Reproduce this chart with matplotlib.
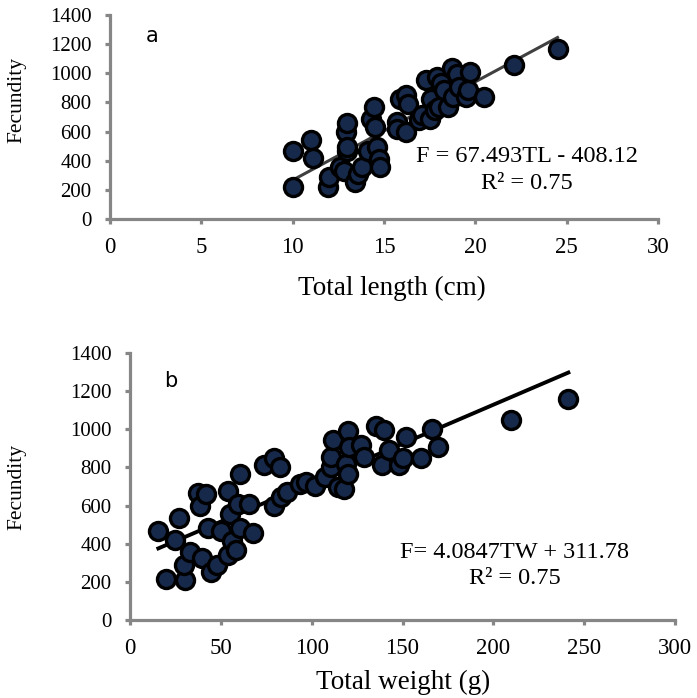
import matplotlib
matplotlib.use("Agg")
import matplotlib.pyplot as plt
import numpy as np

# Panel a: total length (cm) vs fecundity
tl = [10.0, 10.0, 11.0, 11.1, 11.96, 12.0, 12.6, 12.8, 12.9, 13.0, 13.0, 13.0, 13.4, 13.6, 13.8,
      14.1, 14.3, 14.45, 14.5, 14.6, 14.7, 14.8, 15.7, 15.7, 15.9, 16.2, 16.2, 16.3, 16.9, 17.1,
      17.3, 17.5, 17.6, 17.8, 17.9, 18.0, 18.1, 18.3, 18.5, 18.7, 18.8, 19.0, 19.1, 19.5, 19.6,
      19.7, 20.5, 22.1, 24.5]
fec_a = [470, 218, 544, 420, 218, 287, 356, 326, 597, 659, 470, 493, 252, 310, 356,
         470, 689, 769, 631, 493, 413, 356, 666, 620, 826, 849, 597, 792, 677, 711,
         952, 689, 826, 746, 975, 769, 930, 884, 769, 1033, 838, 998, 907, 838, 884,
         1010, 838, 1056, 1164]

# Panel b: total weight (g) vs fecundity
tw = [15.6, 19.8, 25, 27, 30.2, 29.6, 33.3, 37.5, 38.5, 39.6, 41.7, 42.7, 44.8, 47.9, 50,
      54.2, 54.2, 55.2, 56.3, 58.3, 59.4, 60.4, 60.8, 65.6, 67.7, 74.0, 79.2, 82.3, 79.2, 83.3,
      86.5, 93.8, 96.9, 102, 107.3, 110.4, 110.4, 111.5, 114.6, 117.7, 118.8, 119.8, 119.8, 120.8,
      127, 129, 135.4, 138.5, 139.6, 142.7, 147.9, 150, 152, 160, 166, 169.8, 209.8, 241.3]
fec_b = [469, 217, 421, 536, 208, 288, 359, 666, 598, 323, 660, 483, 252, 288, 465,
         341, 678, 554, 412, 367, 607, 767, 483, 607, 456, 811, 847, 802, 598, 643,
         669, 714, 722, 705, 749, 802, 855, 944, 696, 687, 820, 989, 767, 909,
         918, 855, 1015, 811, 998, 891, 811, 847, 962, 847, 1003, 909, 1051, 1157]

fit_a = (67.493, -408.12)
fit_b = (4.0847, 311.78)

serif = "Liberation Serif"
spine_c = "#868686"
face = "#17294a"

plt.rcParams["font.family"] = serif

fig = plt.figure(figsize=(6.97, 6.98), dpi=100)

def style(ax, xmax, xstep):
    for s in ["top", "right"]:
        ax.spines[s].set_visible(False)
    for s in ["left", "bottom"]:
        ax.spines[s].set_color(spine_c)
        ax.spines[s].set_linewidth(2.3)
    ax.set_xlim(0, xmax)
    ax.set_ylim(0, 1400)
    ax.set_xticks(np.arange(0, xmax + 1, xstep))
    ax.set_yticks(np.arange(0, 1401, 200))
    ax.tick_params(axis="both", color=spine_c, width=2.3, length=3.8, direction="out")
    ax.tick_params(axis="x", pad=9, labelsize=16.5)
    ax.tick_params(axis="y", pad=9.5, labelsize=15)

# Panel a
axa = fig.add_axes([110/697, 1-219/698, 548/697, 204/698])
xa = np.array([min(tl), max(tl)])
axa.plot(xa, fit_a[0]*xa + fit_a[1], color="#404040", lw=2.2, zorder=1)
axa.plot(tl, fec_a, "o", ms=13, mfc=face, mec="black", mew=2.4, zorder=2, clip_on=False)
style(axa, 30, 5)

# Panel b
axb = fig.add_axes([130/697, 1-620/698, 545/697, 267/698])
xb = np.array([min(tw), max(tw)])
axb.plot(xb, fit_b[0]*xb + fit_b[1], color="black", lw=2.8, zorder=1)
axb.plot(tw, fec_b, "o", ms=13, mfc=face, mec="black", mew=2.4, zorder=2, clip_on=False)
style(axb, 300, 50)

def ft(x, y, s, **kw):
    fig.text(x/697, 1-y/698, s, **kw)

ft(152, 36, "a", fontsize=15, family="DejaVu Sans", ha="center", va="center")
ft(171, 381, "b", fontsize=15, family="DejaVu Sans", ha="center", va="center")
ft(527, 157, "F = 67.493TL - 408.12", fontsize=17.5, ha="center", va="center")
ft(527, 184, "R² = 0.75", fontsize=17.5, ha="center", va="center")
ft(515, 553, "F= 4.0847TW + 311.78", fontsize=17.5, ha="center", va="center")
ft(515, 578, "R² = 0.75", fontsize=17.5, ha="center", va="center")
ft(392, 288, "Total length (cm)", fontsize=19.5, ha="center", va="center")
ft(403, 682, "Total weight (g)", fontsize=19.5, ha="center", va="center")
ft(17, 100, "Fecundity", fontsize=15.5, ha="center", va="center", rotation=90)
ft(17, 487, "Fecundity", fontsize=15.5, ha="center", va="center", rotation=90)

fig.savefig("out.png", dpi=100)
